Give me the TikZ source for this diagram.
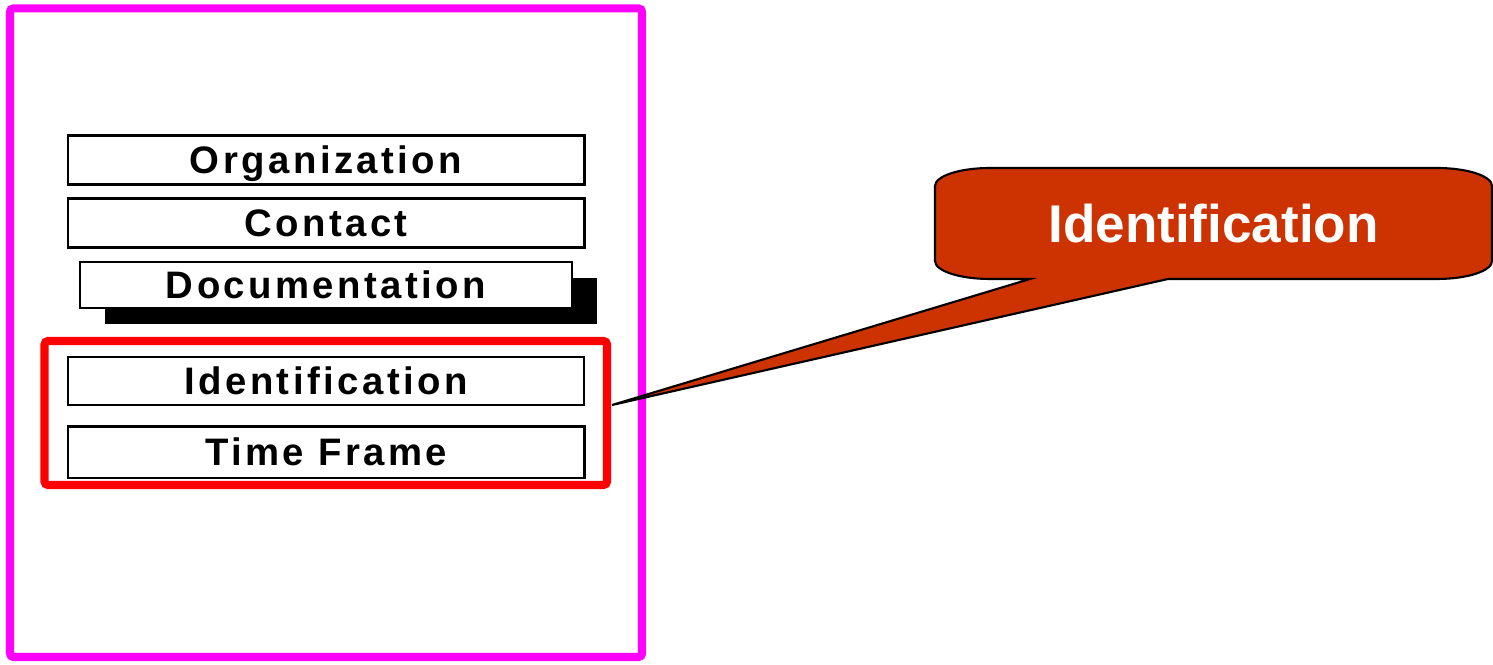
\documentclass[tikz,border=0pt]{standalone}
\usepackage{fontspec}
\setmainfont{Liberation Sans}
\newfontfamily\boxfont[LetterSpace=9]{Liberation Sans}
\usetikzlibrary{calc, positioning}
\definecolor{frameM}{HTML}{FF00FF}
\definecolor{groupR}{HTML}{FF0000}
\definecolor{calloutR}{HTML}{CC3300}

\begin{document}
\begin{tikzpicture}[
    itembox/.style = {draw = black, fill = white, line width = 0.85pt,
      minimum width = \boxWidth cm, minimum height = \boxHeight cm,
      inner sep = 0pt, text height = 0.27cm, text depth = 0pt,
      font = \boxfont\bfseries\fontsize{10.9}{12}\selectfont},
    thinbox/.style = {itembox, line width = 0.4pt},
    grpbox/.style = {draw = groupR, line width = 2.3pt, rounded corners = 1pt,
      inner sep = 0pt},
    callouttext/.style = {text = white, inner sep = 0pt, text height = 0.38cm,
      text depth = 0pt, font = \bfseries\fontsize{15.1}{18}\selectfont}
  ]
  \def\boxWidth{5.16}
  \def\boxHeight{0.49}
  \def\shadowX{0.245}
  \def\shadowY{0.16}
  \def\cornerX{0.55}
  \def\cornerY{0.18}
  \def\callL{9.35}
  \def\callR{14.92}
  \def\callT{-1.68}
  \def\callB{-2.79}

  \useasboundingbox (0, 0) rectangle (14.93, -6.65);

  % ------------------------
  % outer frame
  % ------------------------
  \draw[frameM, line width = 2.3pt, rounded corners = 1pt] (0.10, -0.084) rectangle (6.42, -6.57);

  % ------------------------
  % section boxes
  % ------------------------
  \node[itembox] (org) at (3.26, -1.605) {Organization};
  \node[itembox] (contact) at (3.26, -2.235) {Contact};

  \coordinate (docC) at (3.26, -2.85);
  \fill[black] ($(docC) + ({-2.46 + \shadowX}, {-0.23 - \shadowY})$) rectangle ($(docC) + ({+2.46 + \shadowX}, {+0.23 - \shadowY})$);
  \node[thinbox, minimum width = 4.92cm, minimum height = 0.46cm] (doc) at (docC) {Documentation};

  \node[grpbox, minimum width = 5.625cm, minimum height = 1.44cm] (grp) at (3.2575, -4.13) {};
  \node[thinbox, minimum height = 0.48cm] (ident) at (3.26, -3.81) {Identification};
  \node[itembox, minimum height = 0.51cm] (time) at (3.26, -4.525) {Time Frame};

  % ------------------------
  % callout
  % ------------------------
  \coordinate (tip) at ($(grp.east) + (0.01, 0.08)$);
  \coordinate (tailA) at (10.30, \callB);
  \coordinate (tailB) at (11.68, \callB);

  \filldraw[fill = calloutR, draw = black, line width = 0.6pt]
    (tailA) -- (tip) -- (tailB) -- ({\callR - \cornerX}, \callB)
    arc[start angle = 270, end angle = 360, x radius = \cornerX, y radius = \cornerY]
    -- (\callR, {\callT - \cornerY})
    arc[start angle = 0, end angle = 90, x radius = \cornerX, y radius = \cornerY]
    -- ({\callL + \cornerX}, \callT)
    arc[start angle = 90, end angle = 180, x radius = \cornerX, y radius = \cornerY]
    -- (\callL, {\callB + \cornerY})
    arc[start angle = 180, end angle = 270, x radius = \cornerX, y radius = \cornerY]
    -- cycle;
  \node[callouttext] (idcall) at ({(\callL + \callR)/2}, {(\callT + \callB)/2}) {Identification};
\end{tikzpicture}
\end{document}
